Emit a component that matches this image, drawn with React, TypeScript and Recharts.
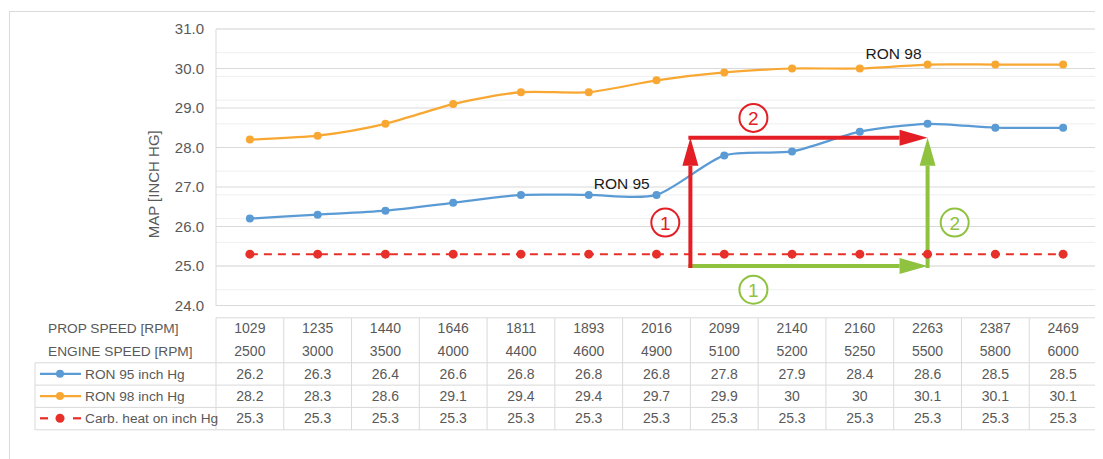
import { ComposedChart, Line, XAxis, YAxis, CartesianGrid, ReferenceLine, ReferenceDot, LabelList, Label } from "recharts"

const propSpeed = ["1029", "1235", "1440", "1646", "1811", "1893", "2016", "2099", "2140", "2160", "2263", "2387", "2469"]
const engineSpeed = ["2500", "3000", "3500", "4000", "4400", "4600", "4900", "5100", "5200", "5250", "5500", "5800", "6000"]
const ron95 = [26.2, 26.3, 26.4, 26.6, 26.8, 26.8, 26.8, 27.8, 27.9, 28.4, 28.6, 28.5, 28.5]
const ron98 = [28.2, 28.3, 28.6, 29.1, 29.4, 29.4, 29.7, 29.9, 30, 30, 30.1, 30.1, 30.1]
const carbHeat = [25.3, 25.3, 25.3, 25.3, 25.3, 25.3, 25.3, 25.3, 25.3, 25.3, 25.3, 25.3, 25.3]

const headerLabels = ["PROP SPEED [RPM]", "ENGINE SPEED [RPM]"]
const seriesLabels = ["RON 95 inch Hg", "RON 98 inch Hg", "Carb. heat on inch Hg"]
const seriesNames = ["RON 95", "RON 98"]
const yTicks = [24, 25, 26, 27, 28, 29, 30, 31]

// arrows / step markers, x in category units (0..13), y in inch Hg
const redArrows = [
  [{ x: 7, y: 25 }, { x: 7, y: 28.25 }],
  [{ x: 7, y: 28.25 }, { x: 10.5, y: 28.25 }],
]
const greenArrows = [
  [{ x: 7, y: 25 }, { x: 10.5, y: 25 }],
  [{ x: 10.5, y: 25 }, { x: 10.5, y: 28.25 }],
]
const redSteps = [{ x: 6.63, y: 26.1, n: "1" }, { x: 7.93, y: 28.75, n: "2" }]
const greenSteps = [{ x: 7.93, y: 24.4, n: "1" }, { x: 10.9, y: 26.1, n: "2" }]

const minorTicks: number[] = []
for (let v = 24; v < 31; v += 0.2) minorTicks.push(Math.round(v * 10) / 10)

const data = propSpeed.map((p, i) => ({
  prop: p,
  pos: i + 0.5,
  engine: engineSpeed[i],
  ron95: ron95[i],
  ron98: ron98[i],
  carb: carbHeat[i],
}))

const W = 1095
const H = 451
const Y_W = 208
const M_RIGHT = 6
const PLOT_W = W - Y_W - M_RIGHT
const BAND = PLOT_W / propSpeed.length

const FONT = "'Liberation Sans', Arial, sans-serif"
const GREY = "#595959"
const BORDER = "#d9d9d9"
const BLUE = "#5b9bd5"
const ORANGE = "#f8a832"
const RED = "#e8302a"
const ARROW_RED = "#e31e24"
const ARROW_GREEN = "#8fc23f"

const LINES = [57.3, 79.6, 101.9, 124.3]
const TEXT_Y = [22.3, 45.3, 68.3, 90.6, 112.8]
const LEGEND_LEFT = 27

// excel-like smoothing (cardinal spline through the points)
function smoothCurve(context: any) {
  let pts: number[][] = []
  const k = 8
  return {
    areaStart() {},
    areaEnd() {},
    lineStart() {
      pts = []
    },
    point(x: number, y: number) {
      pts.push([+x, +y])
    },
    lineEnd() {
      if (!pts.length) return
      context.moveTo(pts[0][0], pts[0][1])
      for (let i = 0; i < pts.length - 1; i++) {
        const p0 = pts[i - 1] || pts[i]
        const p1 = pts[i]
        const p2 = pts[i + 1]
        const p3 = pts[i + 2] || pts[i + 1]
        context.bezierCurveTo(
          p1[0] + (p2[0] - p0[0]) / k,
          p1[1] + (p2[1] - p0[1]) / k,
          p2[0] - (p3[0] - p1[0]) / k,
          p2[1] - (p3[1] - p1[1]) / k,
          p2[0],
          p2[1]
        )
      }
    },
  }
}

function TableTick(props: any) {
  const { x, y, payload } = props
  const i = payload.index
  const L = x - BAND / 2
  const R = x + BAND / 2
  const top = y + 12.3
  const bottom = y + LINES[3]
  const values = [propSpeed[i], engineSpeed[i], ron95[i], ron98[i], carbHeat[i]]
  const keyColors = [BLUE, ORANGE, RED]
  return (
    <g>
      <line x1={L} y1={top} x2={R} y2={top} stroke={BORDER} />
      {LINES.map((d) => (
        <line key={d} x1={L} y1={y + d} x2={R} y2={y + d} stroke={BORDER} />
      ))}
      <line x1={L} y1={top} x2={L} y2={bottom} stroke={BORDER} />
      {i === propSpeed.length - 1 && <line x1={R} y1={top} x2={R} y2={bottom} stroke={BORDER} />}
      {values.map((v, r) => (
        <text key={r} x={x} y={y + TEXT_Y[r] + 5} textAnchor="middle" fontSize={14} fontFamily={FONT} fill={GREY}>
          {String(v)}
        </text>
      ))}
      {i === 0 && (
        <g>
          {LINES.map((d) => (
            <line key={d} x1={LEGEND_LEFT} y1={y + d} x2={L} y2={y + d} stroke={BORDER} />
          ))}
          <line x1={LEGEND_LEFT} y1={y + LINES[0]} x2={LEGEND_LEFT} y2={bottom} stroke={BORDER} />
          {headerLabels.map((t, r) => (
            <text key={t} x={40} y={y + TEXT_Y[r] + 5} fontSize={13.7} fontFamily={FONT} fill={GREY}>
              {t}
            </text>
          ))}
          {seriesLabels.map((t, r) => {
            const cy = y + TEXT_Y[r + 2]
            return (
              <g key={t}>
                {r < 2 ? (
                  <line x1={32} y1={cy} x2={73} y2={cy} stroke={keyColors[r]} strokeWidth={2.25} />
                ) : (
                  <g>
                    <line x1={32} y1={cy} x2={40} y2={cy} stroke={RED} strokeWidth={2.25} />
                    <line x1={65} y1={cy} x2={73} y2={cy} stroke={RED} strokeWidth={2.25} />
                  </g>
                )}
                <circle cx={52} cy={cy} r={r < 2 ? 4 : 4.5} fill={keyColors[r]} />
                <text x={77} y={cy + 5} fontSize={13.7} fontFamily={FONT} fill={GREY}>
                  {t}
                </text>
              </g>
            )
          })}
        </g>
      )}
    </g>
  )
}

const arrowShape = (color: string) => (p: any) => {
  const { x1, y1, x2, y2 } = p
  const dx = x2 - x1
  const dy = y2 - y1
  const len = Math.hypot(dx, dy) || 1
  const ux = dx / len
  const uy = dy / len
  const headL = 28
  const headW = 8
  const bx = x2 - ux * headL
  const by = y2 - uy * headL
  const px = -uy
  const py = ux
  return (
    <g>
      <line x1={x1 - ux * 2} y1={y1 - uy * 2} x2={bx} y2={by} stroke={color} strokeWidth={4} />
      <polygon
        points={`${x2},${y2} ${bx + px * headW},${by + py * headW} ${bx - px * headW},${by - py * headW}`}
        fill={color}
      />
    </g>
  )
}

const stepShape = (color: string, n: string) => (p: any) => (
  <g>
    <circle cx={p.cx} cy={p.cy} r={14} fill="none" stroke={color} strokeWidth={2} />
    <text x={p.cx} y={p.cy + 7} textAnchor="middle" fontSize={19} fontFamily={FONT} fill={color}>
      {n}
    </text>
  </g>
)

const nameLabel = (idx: number, name: string, dx: number, dy: number) => (p: any) => {
  if (p.index !== idx) return null
  const vb = p.viewBox || {}
  const px = p.x ?? vb.x
  const py = p.y ?? vb.y
  return (
    <text x={px + dx} y={py + dy} textAnchor="middle" fontSize={15.5} fontFamily={FONT} fill="#1a1a1a">
      {name}
    </text>
  )
}

function YTitle(props: any) {
  const vb = props.viewBox
  const cx = vb.x + vb.width - 63
  const cy = vb.y + vb.height / 2 + 17
  return (
    <text x={cx} y={cy} transform={`rotate(-90 ${cx} ${cy})`} textAnchor="middle" dominantBaseline="central" fontSize={15} fontFamily={FONT} fill={GREY}>
      MAP [INCH HG]
    </text>
  )
}

export default function App() {
  return (
    <div style={{ position: "relative", width: W, height: H }}>
      <div
        style={{
          position: "absolute",
          left: 1,
          top: 3,
          width: W + 20,
          height: H + 20,
          borderLeft: "1px solid #dadada",
          borderTop: "1px solid #dadada",
        }}
      />
      <div style={{ position: "absolute", left: 0, top: 0 }}>
        <ComposedChart width={W} height={H} data={data} margin={{ top: 21, right: M_RIGHT, bottom: 23.5, left: 0 }}>
          <CartesianGrid vertical={false} horizontalValues={minorTicks} stroke="#efefef" />
          <CartesianGrid vertical={false} stroke={BORDER} />
          <XAxis
            dataKey="prop"
            scale="band"
            interval={0}
            height={130}
            tickLine={false}
            tickSize={0}
            tickMargin={0}
            axisLine={{ stroke: BORDER }}
            tick={(p: any) => <TableTick {...p} />}
          />
          <XAxis xAxisId="ann" dataKey="pos" type="number" domain={[0, propSpeed.length]} allowDataOverflow hide />
          <YAxis
            domain={[24, 31]}
            ticks={yTicks}
            width={Y_W}
            tickFormatter={(v: number) => v.toFixed(1)}
            tickLine={false}
            tickMargin={6}
            axisLine={{ stroke: BORDER }}
            tick={{ fill: GREY, fontSize: 15, fontFamily: FONT }}
          >
            <Label content={(p: any) => <YTitle {...p} />} />
          </YAxis>
          <Line
            dataKey="carb"
            type="linear"
            stroke={RED}
            strokeWidth={2}
            strokeDasharray="8 6"
            dot={{ r: 4.5, fill: RED, stroke: "none" }}
            isAnimationActive={false}
          />
          <Line
            dataKey="ron95"
            type={smoothCurve as any}
            stroke={BLUE}
            strokeWidth={2.25}
            dot={{ r: 4, fill: BLUE, stroke: "none" }}
            isAnimationActive={false}
          >
            <LabelList dataKey="ron95" content={nameLabel(5, seriesNames[0], 33, -6)} />
          </Line>
          <Line
            dataKey="ron98"
            type={smoothCurve as any}
            stroke={ORANGE}
            strokeWidth={2.25}
            dot={{ r: 4, fill: ORANGE, stroke: "none" }}
            isAnimationActive={false}
          >
            <LabelList dataKey="ron98" content={nameLabel(10, seriesNames[1], -34, -6)} />
          </Line>
          {greenArrows.map((seg, k) => (
            <ReferenceLine key={"g" + k} xAxisId="ann" segment={seg} shape={arrowShape(ARROW_GREEN)} />
          ))}
          {redArrows.map((seg, k) => (
            <ReferenceLine key={"r" + k} xAxisId="ann" segment={seg} shape={arrowShape(ARROW_RED)} />
          ))}
          {redSteps.map((s) => (
            <ReferenceDot key={"rs" + s.n} xAxisId="ann" x={s.x} y={s.y} shape={stepShape(ARROW_RED, s.n)} />
          ))}
          {greenSteps.map((s) => (
            <ReferenceDot key={"gs" + s.n} xAxisId="ann" x={s.x} y={s.y} shape={stepShape(ARROW_GREEN, s.n)} />
          ))}
        </ComposedChart>
      </div>
    </div>
  )
}
